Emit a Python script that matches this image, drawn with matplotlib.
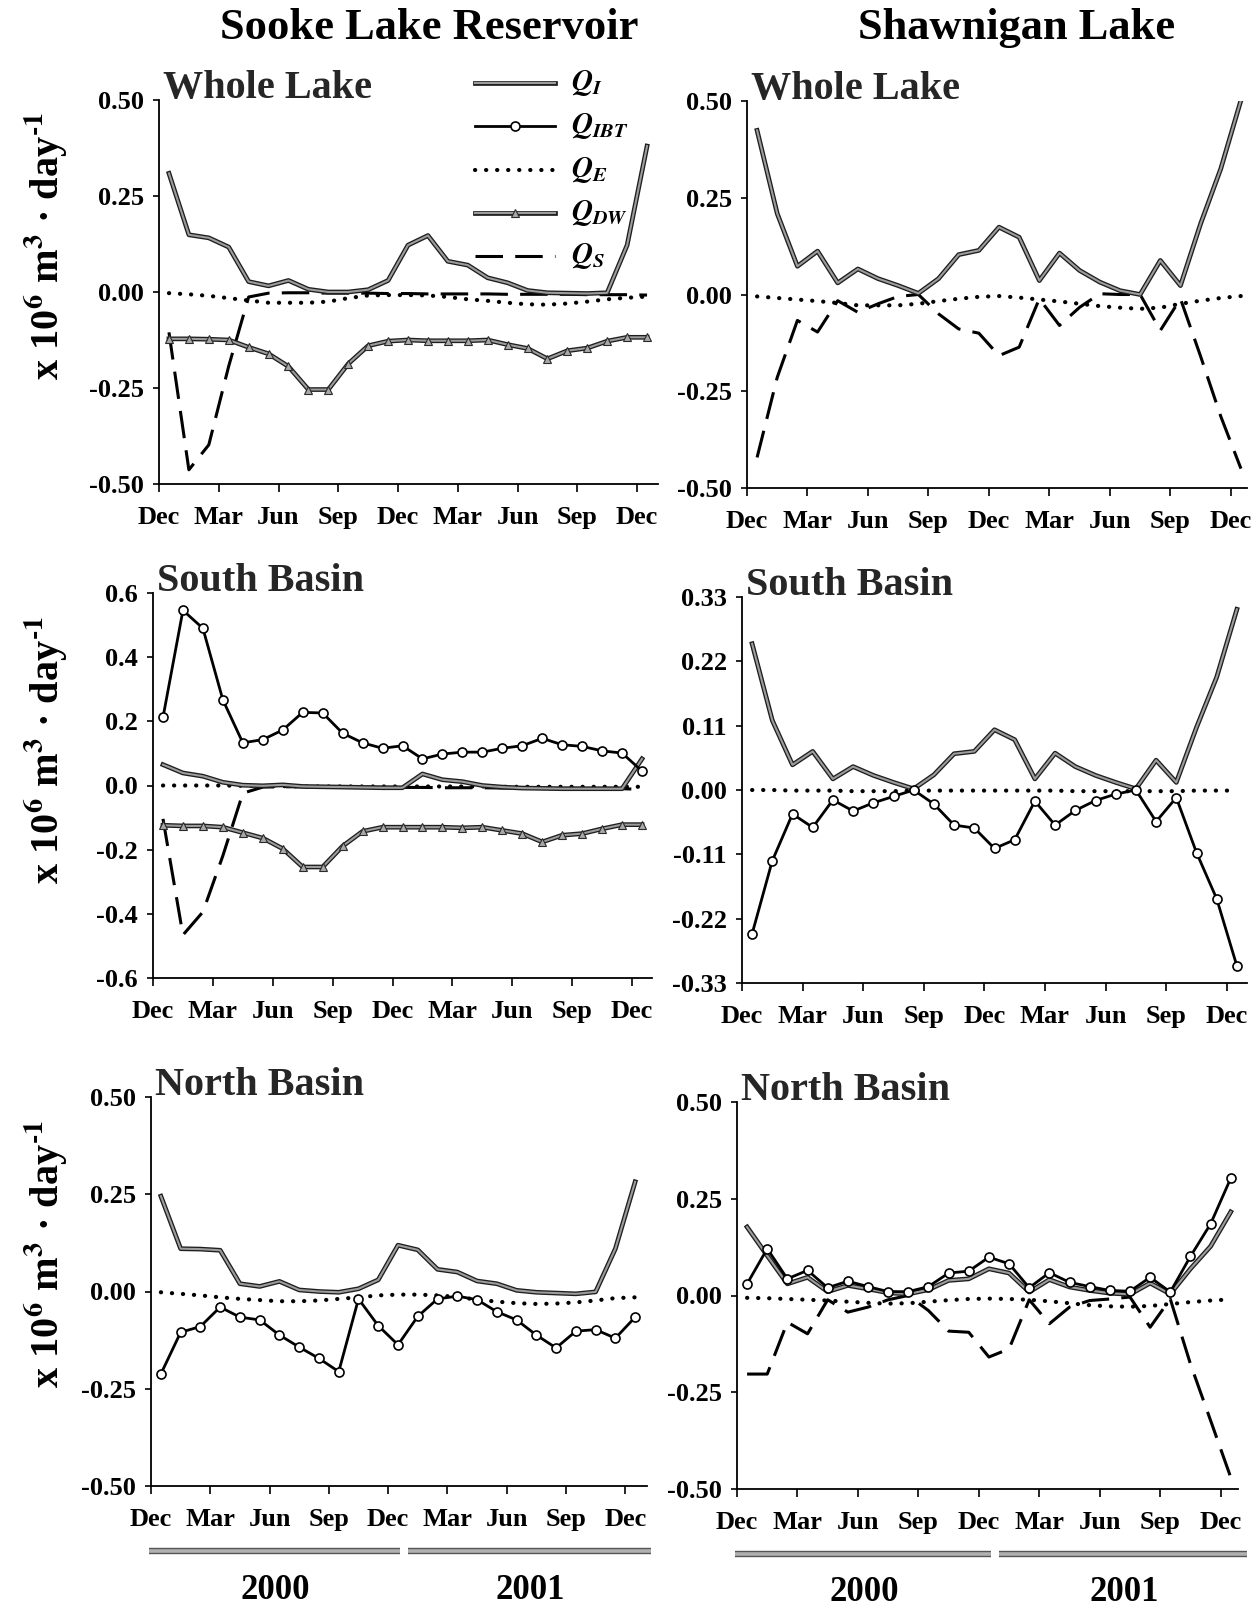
import numpy as np
import matplotlib
matplotlib.use('Agg')
import matplotlib.pyplot as plt
import matplotlib.patheffects as pe
from matplotlib.lines import Line2D
from matplotlib import transforms

plt.rcParams['font.family'] = ['Liberation Serif', 'DejaVu Serif']
plt.rcParams['font.weight'] = 'bold'
plt.rcParams['mathtext.fontset'] = 'stix'
plt.rcParams['axes.unicode_minus'] = False

# monthly values, Jan 2000 .. Jan 2002 (x = months after Dec 1999)
months = np.arange(25) + 0.5
tick_pos = [0, 3, 6, 9, 12, 15, 18, 21, 24]
tick_lab = ['Dec', 'Mar', 'Jun', 'Sep', 'Dec', 'Mar', 'Jun', 'Sep', 'Dec']
years = ['2000', '2001']
year_span = [(-0.1, 12.6), (13.0, 25.3)]
year_mid = [6.3, 19.2]

# Sooke Lake Reservoir - whole lake
sooke_whole_QI = [0.309, 0.149, 0.141, 0.117, 0.027, 0.016, 0.030, 0.007, 0.000, 0.000, 0.006, 0.030, 0.122,
                  0.147, 0.080, 0.070, 0.037, 0.024, 0.004, -0.002, -0.003, -0.004, -0.002, 0.122, 0.380]
sooke_whole_QE = [-0.003, -0.006, -0.010, -0.016, -0.022, -0.028, -0.028, -0.028, -0.025, -0.016, -0.009, -0.008,
                  -0.008, -0.009, -0.013, -0.019, -0.023, -0.028, -0.032, -0.033, -0.030, -0.025, -0.019, -0.015, -0.012]
sooke_whole_QDW = [-0.122, -0.122, -0.123, -0.125, -0.144, -0.161, -0.194, -0.254, -0.254, -0.187, -0.140, -0.128,
                   -0.125, -0.127, -0.127, -0.127, -0.125, -0.137, -0.147, -0.174, -0.153, -0.146, -0.128, -0.118, -0.118]
sooke_whole_QS = [-0.105, -0.463, -0.398, -0.193, -0.013, -0.003, -0.002, -0.002, -0.003, -0.003, -0.003, -0.004,
                  -0.004, -0.005, -0.005, -0.005, -0.005, -0.006, -0.006, -0.006, -0.006, -0.007, -0.007, -0.007, -0.008]

# Shawnigan Lake - whole lake
shaw_whole_QI = [0.424, 0.209, 0.073, 0.112, 0.030, 0.066, 0.041, 0.023, 0.003, 0.041, 0.103, 0.114, 0.174,
                 0.148, 0.036, 0.107, 0.062, 0.032, 0.010, 0.000, 0.088, 0.023, 0.183, 0.325, 0.502]
shaw_whole_QE = [-0.005, -0.009, -0.013, -0.017, -0.022, -0.028, -0.028, -0.028, -0.024, -0.017, -0.011, -0.006,
                 -0.004, -0.008, -0.013, -0.018, -0.024, -0.030, -0.034, -0.037, -0.034, -0.024, -0.016, -0.009, -0.004]
shaw_whole_QS = [-0.421, -0.214, -0.067, -0.097, -0.016, -0.046, -0.024, -0.005, 0.000, -0.050, -0.089, -0.100,
                 -0.158, -0.136, -0.011, -0.080, -0.033, 0.002, 0.000, 0.000, -0.093, -0.011, -0.160, -0.315, -0.450]

# Sooke - south basin
sooke_south_QI = [0.065, 0.039, 0.029, 0.010, 0.001, -0.001, 0.002, -0.003, -0.004, -0.005, -0.006, -0.007, -0.007,
                  0.036, 0.018, 0.012, 0.000, -0.005, -0.008, -0.009, -0.010, -0.010, -0.010, -0.010, 0.083]
sooke_south_QIBT = [0.212, 0.546, 0.490, 0.267, 0.133, 0.143, 0.173, 0.228, 0.226, 0.163, 0.133, 0.116, 0.124,
                    0.083, 0.098, 0.104, 0.104, 0.116, 0.124, 0.147, 0.127, 0.122, 0.108, 0.101, 0.045]
sooke_south_QE = [0.000, 0.000, 0.000, 0.000, -0.001, -0.002, -0.002, -0.003, -0.003, -0.003, -0.003, -0.003,
                  -0.003, -0.003, -0.003, -0.003, -0.003, -0.004, -0.004, -0.004, -0.004, -0.004, -0.004, -0.004, -0.004]
sooke_south_QDW = [-0.124, -0.126, -0.126, -0.130, -0.147, -0.164, -0.197, -0.254, -0.254, -0.189, -0.143, -0.130,
                   -0.130, -0.130, -0.130, -0.132, -0.130, -0.140, -0.150, -0.176, -0.155, -0.150, -0.135, -0.122, -0.122]
sooke_south_QS = [-0.104, -0.466, -0.394, -0.219, -0.024, -0.005, -0.004, -0.004, -0.005, -0.005, -0.005, -0.006,
                  -0.006, -0.006, -0.007, -0.007, -0.007, -0.008, -0.008, -0.008, -0.009, -0.009, -0.010, -0.010, -0.012]

# Shawnigan - south basin
shaw_south_QI = [0.250, 0.119, 0.043, 0.066, 0.019, 0.040, 0.025, 0.013, 0.002, 0.026, 0.062, 0.066, 0.103,
                 0.086, 0.019, 0.063, 0.040, 0.025, 0.013, 0.002, 0.051, 0.013, 0.107, 0.193, 0.309]
shaw_south_QIBT = [-0.246, -0.121, -0.041, -0.064, -0.017, -0.036, -0.022, -0.011, 0.000, -0.024, -0.060, -0.065,
                   -0.100, -0.085, -0.019, -0.060, -0.035, -0.018, -0.007, 0.000, -0.054, -0.013, -0.107, -0.186, -0.301]
shaw_south_QE = [0.000, 0.000, -0.001, -0.001, -0.001, -0.002, -0.002, -0.002, -0.001, -0.001, -0.001, -0.001,
                 -0.001, -0.001, -0.001, -0.001, -0.002, -0.002, -0.002, -0.002, -0.002, -0.002, -0.001, -0.001, -0.001]

# Sooke - north basin
sooke_north_QI = [0.245, 0.110, 0.109, 0.106, 0.020, 0.013, 0.026, 0.004, 0.000, -0.002, 0.007, 0.030, 0.119,
                  0.107, 0.057, 0.050, 0.027, 0.020, 0.003, -0.002, -0.004, -0.006, -0.001, 0.110, 0.282]
sooke_north_QIBT = [-0.212, -0.105, -0.090, -0.040, -0.066, -0.073, -0.112, -0.143, -0.172, -0.206, -0.019, -0.088,
                    -0.137, -0.064, -0.019, -0.012, -0.021, -0.052, -0.073, -0.112, -0.145, -0.102, -0.098, -0.120, -0.066]
sooke_north_QE = [-0.002, -0.006, -0.010, -0.015, -0.019, -0.022, -0.025, -0.025, -0.023, -0.019, -0.015, -0.010,
                  -0.008, -0.008, -0.010, -0.014, -0.021, -0.026, -0.030, -0.032, -0.031, -0.028, -0.023, -0.017, -0.015]

# Shawnigan - north basin
shaw_north_QI = [0.177, 0.103, 0.030, 0.047, 0.010, 0.026, 0.017, 0.007, 0.004, 0.015, 0.039, 0.043, 0.069,
                 0.058, 0.009, 0.041, 0.022, 0.013, 0.006, 0.003, 0.032, 0.004, 0.069, 0.127, 0.216]
shaw_north_QIBT = [0.030, 0.121, 0.043, 0.065, 0.020, 0.037, 0.023, 0.010, 0.010, 0.023, 0.058, 0.063, 0.099,
                   0.082, 0.020, 0.059, 0.034, 0.023, 0.013, 0.011, 0.047, 0.009, 0.101, 0.185, 0.303]
shaw_north_QE = [-0.006, -0.007, -0.009, -0.011, -0.013, -0.016, -0.019, -0.021, -0.020, -0.016, -0.012, -0.009,
                 -0.008, -0.009, -0.011, -0.015, -0.020, -0.025, -0.028, -0.029, -0.027, -0.022, -0.017, -0.013, -0.010]
shaw_north_QS = [-0.203, -0.203, -0.069, -0.099, -0.011, -0.043, -0.030, -0.011, 0.000, -0.039, -0.092, -0.095,
                 -0.159, -0.138, -0.011, -0.073, -0.030, -0.013, -0.009, -0.004, -0.082, -0.009, -0.177, -0.323, -0.470]

# line styles for each flux term
edge = [pe.Stroke(linewidth=3.4, foreground='#1e1e1e'), pe.Normal()]
STYLE = {
    'QI': dict(color='#9c9c9c', lw=1.5, path_effects=edge),
    'QIBT': dict(color='black', lw=2.0, marker='o', ms=6.5, mfc='white', mec='black', mew=1.2),
    'QE': dict(color='black', lw=3.0, ls=(0, (0.05, 2.6)), dash_capstyle='round'),
    'QDW': dict(color='#9c9c9c', lw=1.5, path_effects=edge),
    'QS': dict(color='black', lw=2.2, ls=(0, (9, 4))),
}
TRI = dict(ls='none', marker='^', ms=5.5, mfc='#a8a8a8', mec='#2a2a2a', mew=0.8)
LABELS = {'QI': r'$Q_{I}$', 'QIBT': r'$Q_{IBT}$', 'QE': r'$Q_{E}$', 'QDW': r'$Q_{DW}$', 'QS': r'$Q_{S}$'}

W, H = 1260, 1609
fig = plt.figure(figsize=(W / 100, H / 100), dpi=100)


def add_panel(left, right, top, bottom):
    return fig.add_axes([left / W, 1 - bottom / H, (right - left) / W, (bottom - top) / H])


def draw(ax, series, title, xmax, ymax, yticks, fmt):
    for key in ['QE', 'QS', 'QDW', 'QI', 'QIBT']:
        if key not in series:
            continue
        ax.plot(months, series[key], **STYLE[key])
        if key == 'QDW':
            ax.plot(months, series[key], **TRI)
    ax.set_xlim(0, xmax)
    ax.set_ylim(-ymax, ymax)
    ax.set_xticks(tick_pos)
    ax.set_xticklabels(tick_lab)
    ax.set_yticks(yticks)
    ax.set_yticklabels([fmt.format(v) for v in yticks])
    for s in ['top', 'right']:
        ax.spines[s].set_visible(False)
    for s in ['left', 'bottom']:
        ax.spines[s].set_linewidth(1.3)
    ax.tick_params(axis='x', direction='out', length=6, width=1.2, pad=10, labelsize=19)
    ax.tick_params(axis='y', direction='out', length=4, width=1.2, pad=7, labelsize=19)
    ax.text(0.008, 1.004, title, transform=ax.transAxes, ha='left', va='baseline',
            fontsize=29, color='#262626')


ticks50 = [0.50, 0.25, 0.00, -0.25, -0.50]
ticks6 = [0.6, 0.4, 0.2, 0.0, -0.2, -0.4, -0.6]
ticks33 = [0.33, 0.22, 0.11, 0.00, -0.11, -0.22, -0.33]

ax_tl = add_panel(159, 658, 100, 484)
draw(ax_tl, dict(QI=sooke_whole_QI, QE=sooke_whole_QE, QDW=sooke_whole_QDW, QS=sooke_whole_QS),
     'Whole Lake', 25.05, 0.5, ticks50, '{:.2f}')
ax_tr = add_panel(747, 1247, 101, 488)
draw(ax_tr, dict(QI=shaw_whole_QI, QE=shaw_whole_QE, QS=shaw_whole_QS),
     'Whole Lake', 24.8, 0.5, ticks50, '{:.2f}')
ax_ml = add_panel(153, 652, 593, 978)
draw(ax_ml, dict(QI=sooke_south_QI, QIBT=sooke_south_QIBT, QE=sooke_south_QE, QDW=sooke_south_QDW,
                 QS=sooke_south_QS), 'South Basin', 25.0, 0.6, ticks6, '{:.1f}')
ax_mr = add_panel(742, 1247, 597, 983)
draw(ax_mr, dict(QI=shaw_south_QI, QIBT=shaw_south_QIBT, QE=shaw_south_QE),
     'South Basin', 25.0, 0.33, ticks33, '{:.2f}')
ax_bl = add_panel(151, 647, 1097, 1486)
draw(ax_bl, dict(QI=sooke_north_QI, QIBT=sooke_north_QIBT, QE=sooke_north_QE),
     'North Basin', 25.1, 0.5, ticks50, '{:.2f}')
ax_br = add_panel(737, 1238, 1102, 1489)
draw(ax_br, dict(QI=shaw_north_QI, QIBT=shaw_north_QIBT, QE=shaw_north_QE, QS=shaw_north_QS),
     'North Basin', 24.86, 0.5, ticks50, '{:.2f}')

# column headers
fig.text(429 / W, 1 - 39 / H, 'Sooke Lake Reservoir', ha='center', va='baseline', fontsize=32)
fig.text(1017 / W, 1 - 39 / H, 'Shawnigan Lake', ha='center', va='baseline', fontsize=32)

# y axis labels on the left column
ylab = 'x 10$^{\\mathbf{6}}$ m$^{\\mathbf{3}}$ · day$^{\\text{-}\\mathbf{1}}$'
for yc in [246, 750, 1254]:
    fig.text(46 / W, 1 - yc / H, ylab, rotation=90, ha='center', va='center', fontsize=29)

# year bars under the bottom row
for ax in [ax_bl, ax_br]:
    trans = transforms.blended_transform_factory(ax.transData, ax.transAxes)
    for yr, (x0, x1), xm in zip(years, year_span, year_mid):
        ax.plot([x0, x1], [-0.167, -0.167], transform=trans, clip_on=False, color='#b0b0b0', lw=2.6,
                solid_capstyle='butt',
                path_effects=[pe.Stroke(linewidth=4.6, foreground='#555555'), pe.Normal()])
        ax.text(xm, -0.268, yr, transform=trans, ha='center', va='center', fontsize=25)

# legend drawn by hand in the top-left panel
hx0, hx1, tx = 475 / W, 555 / W, 571 / W
for k, key in enumerate(['QI', 'QIBT', 'QE', 'QDW', 'QS']):
    yy = 1 - (83 + 43.3 * k) / H
    st = dict(STYLE[key])
    if 'marker' in st:
        st['markevery'] = [1]
    fig.add_artist(Line2D([hx0, (hx0 + hx1) / 2, hx1], [yy, yy, yy], transform=fig.transFigure, **st))
    if key == 'QDW':
        fig.add_artist(Line2D([(hx0 + hx1) / 2], [yy], transform=fig.transFigure, **TRI))
    fig.text(tx, yy - 7 / H, LABELS[key], ha='left', va='baseline', fontsize=21)

fig.savefig('out.png', dpi=100)
